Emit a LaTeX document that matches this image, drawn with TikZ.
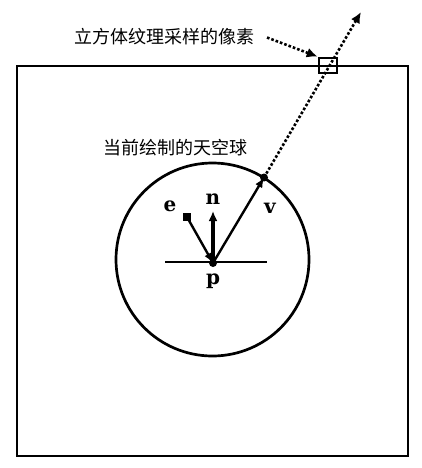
\documentclass[tikz,border=0pt]{standalone}
\usepackage{fontspec}
\newfontfamily\cjk{Noto Sans CJK SC}
\newfontfamily\lbl{DejaVu Serif}
\usetikzlibrary{arrows.meta}
\begin{document}
\begin{tikzpicture}[x=1pt,y=-1pt,
  frame/.style={line width=2.7pt},
  vec/.style={line width=2.4pt,-{Latex[length=10pt,width=8pt]}},
  dotline/.style={line width=2.6pt,dotted},
  cn/.style={font=\cjk\fontsize{18}{20}\selectfont,inner sep=0pt},
  vl/.style={font=\lbl\bfseries\fontsize{20}{22}\selectfont,inner sep=0pt},
  dotmark/.style={circle,fill=black,inner sep=0pt,minimum size=8pt}]
\useasboundingbox (0,0) rectangle (421,468);
\draw[frame] (17,66) rectangle (408,456);
\coordinate (c) at (212.5,259.5);
\draw[frame] (c) circle[radius=96.5];
\node[dotmark] (p) at (213,263) {};
\draw[line width=1.2pt] (165,262) -- (267,262);
\node[dotmark,rectangle,minimum size=7.5pt] (e) at (187,217) {};
\coordinate (ntip) at (213,211);
\node[dotmark] (v) at (264,177.5) {};
\coordinate (far) at (361,12);
\draw[vec] (e.center) -- (p.center);
\draw[line width=3.4pt,-{Latex[length=10pt,width=9pt]}] (p.center) -- (ntip);
\draw[vec] (p.center) -- (v.center);
\draw[dotline,-{Latex[length=11pt,width=10pt]}] (v.center) -- (far);
\node[draw,line width=2.6pt,minimum width=18pt,minimum height=15pt,inner sep=0pt] (px) at (328,65.5) {};
\node[vl] (le) at (170,206) {e};
\node[vl] (ln) at (213,199) {n};
\node[vl] (lv) at (270,208) {v};
\node[vl] (lp) at (213,281) {p};
\node[cn] (sky) at (175,148) {当前绘制的天空球};
\node[cn] (tex) at (164,37) {立方体纹理采样的像素};
\draw[dotline,-{Latex[length=11pt,width=10pt]}] (267,37.5) -- (px.north west);
\end{tikzpicture}
\end{document}
